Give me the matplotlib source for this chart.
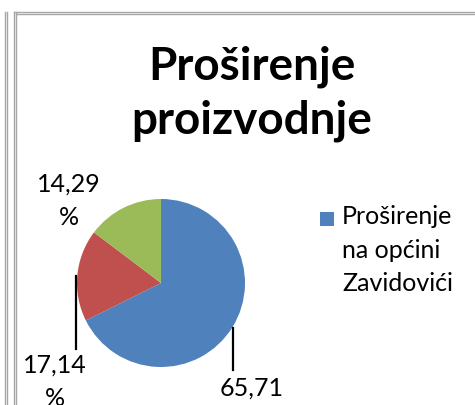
import matplotlib.pyplot as plt
from matplotlib.lines import Line2D
from matplotlib.patches import Rectangle

plt.rcParams['font.family'] = ['Lato', 'DejaVu Sans']

title = "Proširenje\nproizvodnje"
categories = ["Proširenje\nna općini\nZavidovići", "", ""]
values = [65.71, 17.14, 14.29]
value_labels = ["65,71\n%", "17,14\n%", "14,29\n%"]
colors = ['#4F81BD', '#C0504D', '#9BBB59']

W, H = 475, 405
fig = plt.figure(figsize=(W / 100, H / 100), dpi=100)

def px(x, y):
    return x / W, 1 - y / H

# chart frame bits (screenshot edges)
gray = '#a6a6a6'
for x in (5, 7, 14, 16):
    fig.add_artist(Line2D([x / W, x / W], [0, 1 - 12 / H], color=gray, lw=1))
fig.add_artist(Line2D([14 / W, 1], [1 - 12 / H, 1 - 12 / H], color=gray, lw=1))
fig.add_artist(Line2D([16 / W, 1], [1 - 14 / H, 1 - 14 / H], color=gray, lw=1))

fig.text(252 / W, 1 - 94 / H, title, ha='center', va='center', fontsize=33,
         fontweight='bold', linespacing=1.35)

# pie axes: centre (161, 283), radius 84 px
cx, cy, r = 161, 283, 84
ax = fig.add_axes([(cx - r) / W, (H - cy - r) / H, 2 * r / W, 2 * r / H])
wedges, _ = ax.pie(values, colors=colors, startangle=90, counterclock=False,
                   radius=1)
ax.set_xlim(-1, 1)
ax.set_ylim(-1, 1)
ax.set_aspect('equal')
ax.axis('off')

def d(x, y):
    return (x - cx) / r, (cy - y) / r

label_pos = [(252, 405), (55, 382), (69, 201)]
for lab, (lx, ly) in zip(value_labels, label_pos):
    x, y = d(lx, ly)
    ax.text(x, y, lab, ha='center', va='center', fontsize=18, clip_on=False,
            linespacing=1.55)

# leader lines
for (x0, y0, y1) in [(76, 276, 349), (233, 328, 370)]:
    a = d(x0, y0)
    b = d(x0, y1)
    ax.add_line(Line2D([a[0], b[0]], [a[1], b[1]], color='black', lw=1.6,
                       clip_on=False))

# legend (only the first entry is visible)
fig.add_artist(Rectangle(px(320, 226), 14 / W, 14 / H, facecolor=colors[0],
                         edgecolor='none', transform=fig.transFigure))
fig.text(342 / W, 1 - 205 / H, categories[0], ha='left', va='top',
         fontsize=18, linespacing=1.56)

fig.savefig('out.png', dpi=100)
